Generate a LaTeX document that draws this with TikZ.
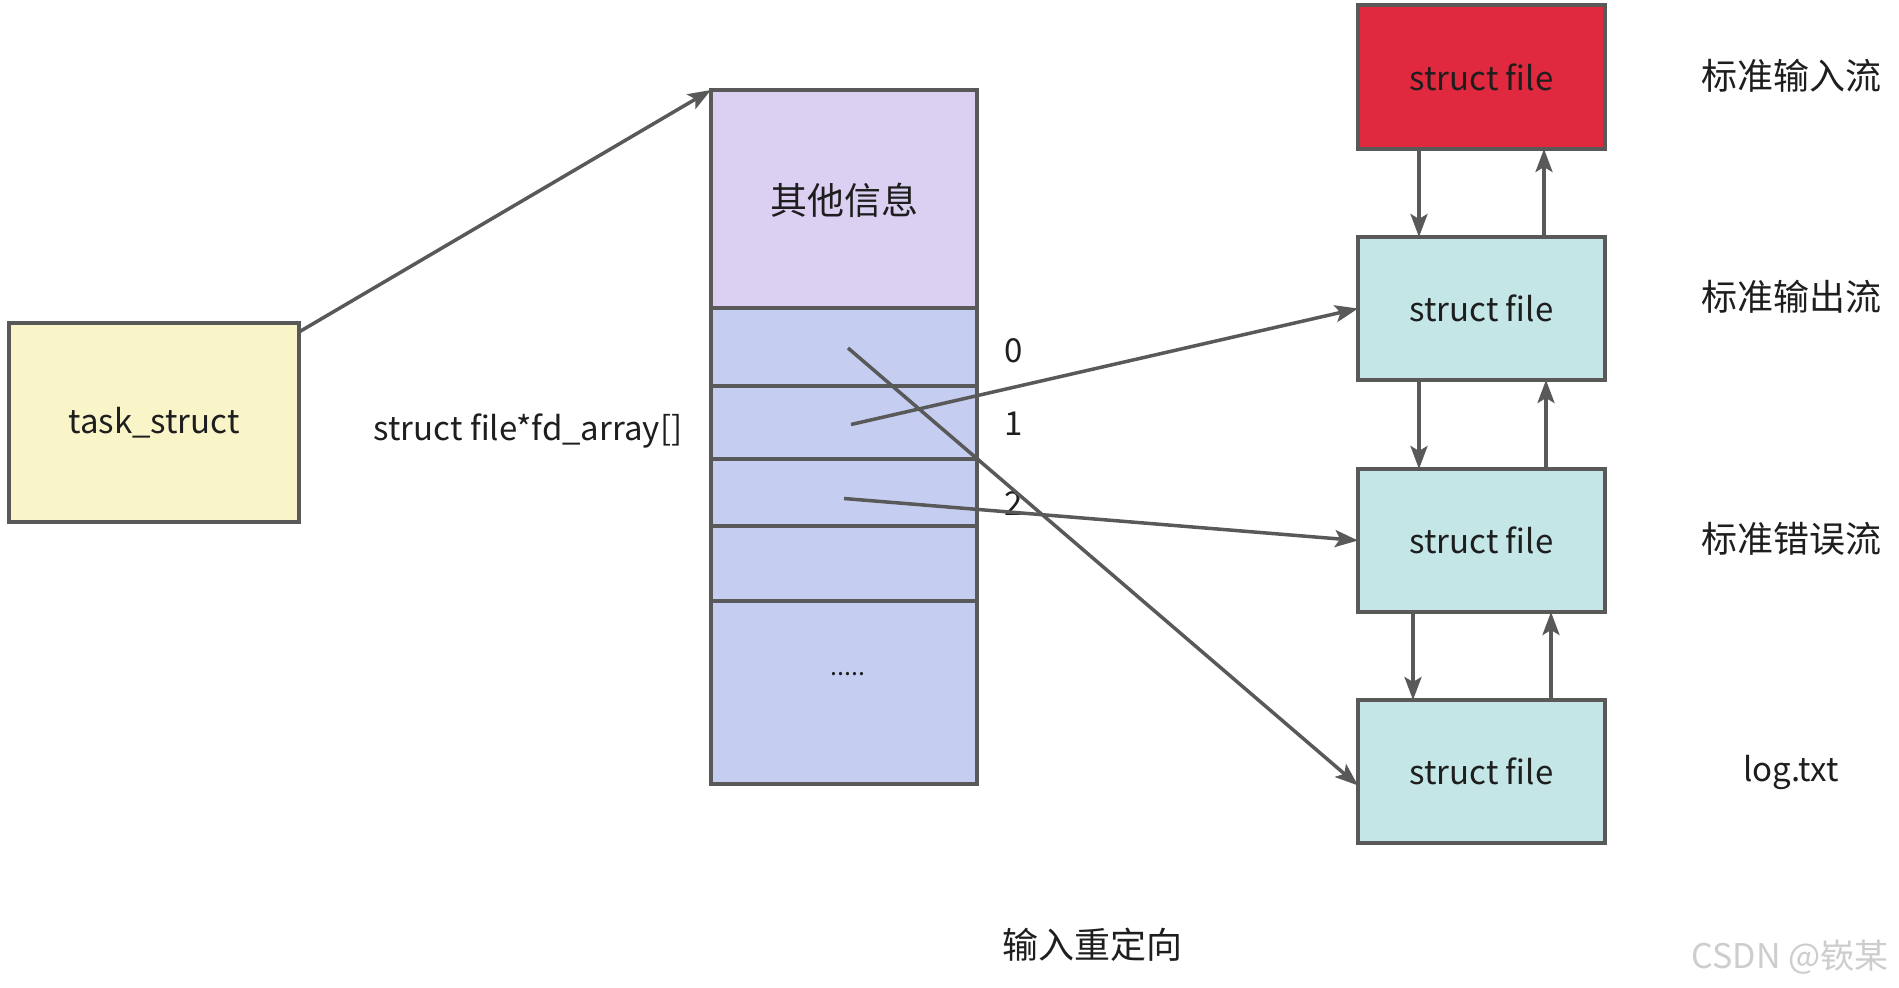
\documentclass[tikz,border=0pt]{standalone}
\usepackage{fontspec}
\setmainfont{Noto Sans CJK SC}
\usetikzlibrary{arrows.meta,calc}
\definecolor{edge}{HTML}{595959}
\definecolor{ink}{HTML}{1E1E1E}
\definecolor{taskfill}{HTML}{FAF5C9}
\definecolor{infofill}{HTML}{DBD0F1}
\definecolor{slotfill}{HTML}{C5CDF0}
\definecolor{stdinfill}{HTML}{E0283F}
\definecolor{filefill}{HTML}{C4E6E6}
\definecolor{mark}{HTML}{CDCDCD}
\begin{document}
\begin{tikzpicture}[x=1pt,y=-1pt,
  box/.style={draw=edge, line width=3.5pt, rectangle, inner sep=0pt, outer sep=0pt,
    text=ink, font=\fontsize{33}{38}\selectfont},
  slot/.style={box, fill=slotfill, minimum width=266pt},
  filebox/.style={box, fill=filefill, minimum width=247pt, minimum height=143pt},
  lbl/.style={text=ink, inner sep=0pt, font=\fontsize{33}{38}\selectfont},
  cjk/.style={text=ink, inner sep=0pt, font=\fontsize{36}{42}\selectfont},
  link/.style={draw=edge, line width=3.5pt, -{Stealth[length=23pt,width=17pt,inset=5pt]}}]
\fill[white] (0,0) rectangle (1899,988);
\useasboundingbox (0,0) rectangle (1899,988);

% task_struct
\node[box, fill=taskfill, minimum width=290pt, minimum height=199pt] (task) at (154,422.5) {task\_struct};

% the file descriptor table
\node[box, fill=infofill, minimum width=266pt, minimum height=220pt, font=\fontsize{37}{42}\selectfont] (info) at (844,200) {其他信息};
\node[slot, minimum height=78pt] (r0) at (844,347) {};
\node[slot, minimum height=73pt] (r1) at (844,422.5) {};
\node[slot, minimum height=67pt] (r2) at (844,492.5) {};
\node[slot, minimum height=75pt] (r3) at (844,563.5) {};
\node[slot, minimum height=183pt] (rest) at (844,692.5) {};
\node[text=ink, inner sep=0pt, font=\fontsize{25}{30}\selectfont] (dots) at (848,674) {.....};
\node[lbl] (arr) at (528,431) {struct file*fd\_array[]};

% indices
\node[lbl] (n0) at (1014,351) {0};
\node[lbl] (n1) at (1014,424) {1};
\node[lbl] (n2) at (1014,504) {2};

% struct file objects
\node[box, fill=stdinfill, minimum width=247pt, minimum height=144pt] (f0) at (1481.5,77) {struct file};
\node[filebox] (f1) at (1481.5,308.5) {struct file};
\node[filebox] (f2) at (1481.5,540.5) {struct file};
\node[filebox] (f3) at (1481.5,771.5) {struct file};

% stream names
\node[cjk] (s0) at (1791,76) {标准输入流};
\node[cjk] (s1) at (1791,297) {标准输出流};
\node[cjk] (s2) at (1791,539) {标准错误流};
\node[lbl] (s3) at (1791,772) {log.txt};

\node[cjk] (title) at (1092,945) {输入重定向};
\node[text=mark, inner sep=0pt, font=\fontsize{34}{40}\selectfont] (wm) at (1790,957) {CSDN @嵚某};

% connectors
\draw[link] ($(task.north east)+(0,9)$) -- (info.north west);
\draw[link] ($(r0.center)+(4,1)$) -- ($(f3.west)+(0,14)$);
\draw[link] ($(r1.center)+(7,2)$) -- (f1.west);
\draw[link] ($(r2.center)+(0,6)$) -- (f2.west);

\draw[link] ($(f0.south west)+(61,0)$) -- ($(f1.north west)+(61,0)$);
\draw[link] ($(f1.north west)+(186,0)$) -- ($(f0.south west)+(186,0)$);
\draw[link] ($(f1.south west)+(61,0)$) -- ($(f2.north west)+(61,0)$);
\draw[link] ($(f2.north west)+(188,0)$) -- ($(f1.south west)+(188,0)$);
\draw[link] ($(f2.south west)+(55,0)$) -- ($(f3.north west)+(55,0)$);
\draw[link] ($(f3.north west)+(193,0)$) -- ($(f2.south west)+(193,0)$);
\end{tikzpicture}
\end{document}
